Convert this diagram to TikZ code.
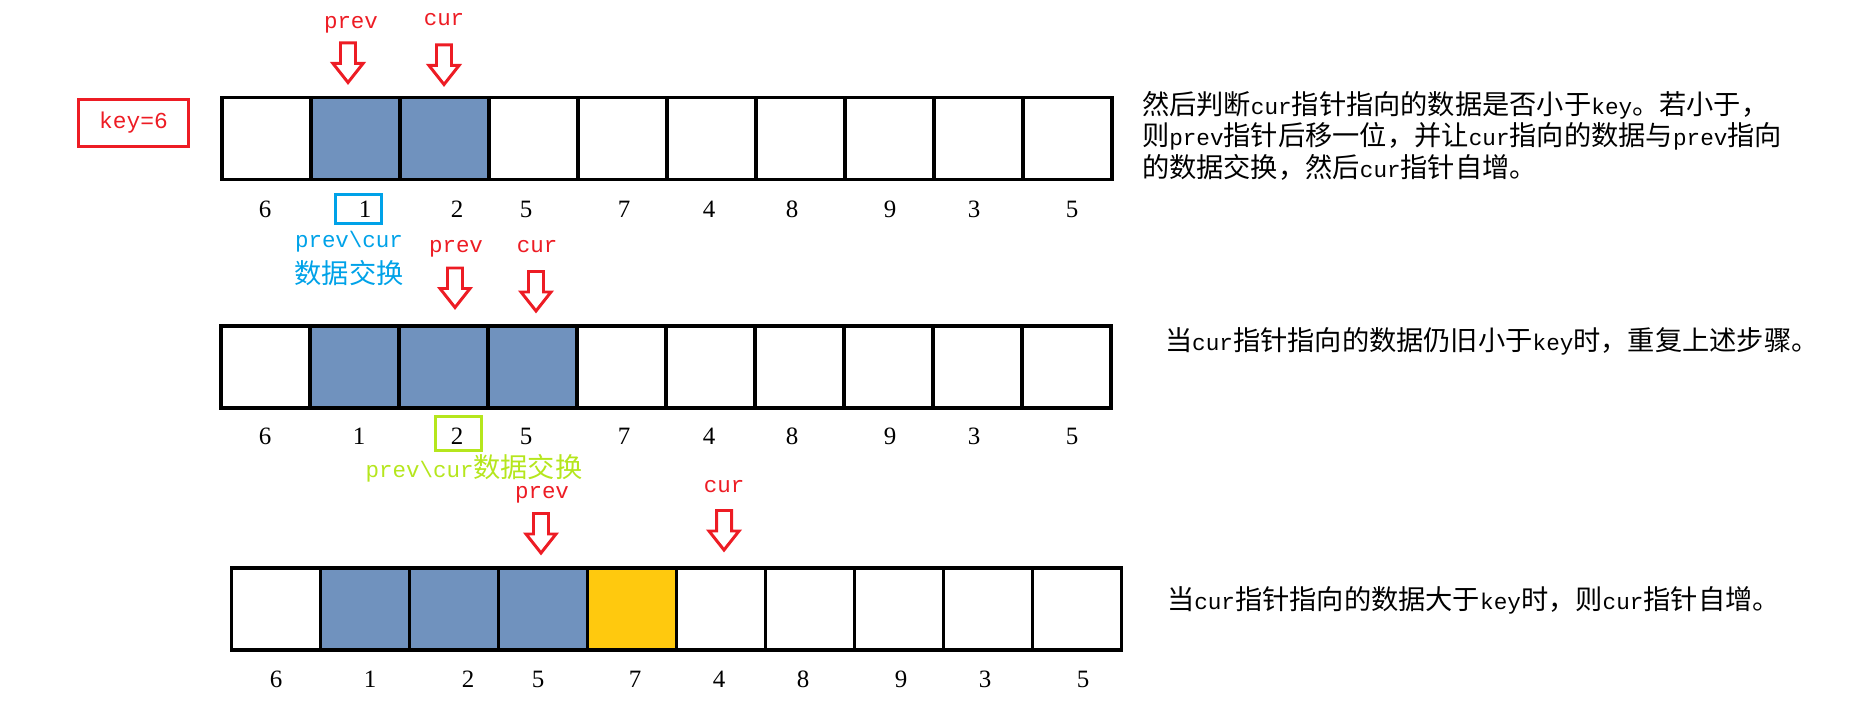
\documentclass[tikz,border=0pt]{standalone}
\usepackage{fontspec}
\setmainfont{Liberation Serif}
\newfontfamily\cjk{Noto Sans CJK SC}
\newfontfamily\mono{Liberation Mono}
\definecolor{pred}{HTML}{ED1C24}
\definecolor{pcyan}{HTML}{00A2E8}
\definecolor{plime}{HTML}{B5E61D}
\definecolor{pblue}{HTML}{7092BE}
\definecolor{pgold}{HTML}{FFC90E}
\newcommand{\en}[1]{{\mono\fontsize{12.9}{18}\selectfont #1}}

\begin{document}
\begin{tikzpicture}[
        x=0.2mm, y=-0.2mm,
        every node/.style={inner sep=0pt, outer sep=0pt},
        cell/.style={draw, line width=2pt, minimum width=17.8mm, minimum height=16.4mm},
        pics/ptr/.style={code={
            \draw[pred, line width=1.7pt] (-7.5,-20.5) -- (7.5,-20.5) -- (7.5,0) -- (15,0)
                -- (0,19) -- (-15,0) -- (-7.5,0) -- cycle;}},
        lbl/.style={font=\mono\fontsize{12.8}{14}\selectfont, text=pred, anchor=base},
        num/.style={font=\fontsize{14.2}{16}\selectfont, anchor=base},
        note/.style={font=\cjk\fontsize{15.5}{18}\selectfont, anchor=base west},
    ]
    \useasboundingbox (0,0) rectangle (1858,703);

    % Key
    \node[draw=pred, line width=1.7pt, minimum width=22mm, minimum height=9.4mm,
        text=pred, font=\mono\fontsize{13}{15}\selectfont] (key) at (133.5,123) {key=6};

    % First row
    \foreach \c [count=\i from 0] in {white,pblue,pblue,white,white,white,white,white,white,white}
        \node[cell, fill=\c] (a\i) at (266.5+89*\i, 138.5) {};
    \foreach \v/\x [count=\i] in {6/265,1/365,2/457,5/526,7/624,4/709,8/792,9/890,3/974,5/1072}
        \node[num] (na\i) at (\x,218) {\v};
    \node[lbl] (lbprev1) at (351,29) {prev};
    \node[lbl] (lbcur1) at (444,26) {cur};
    \pic (arprev1) at (348,63.5) {ptr};
    \pic (arcur1) at (444,65.5) {ptr};
    \node[draw=pcyan, line width=1.7pt, minimum width=9.2mm, minimum height=5.8mm] (swap1) at (358.5,209) {};
    \node[lbl, text=pcyan] (swtext1) at (349,248) {prev\textbackslash cur};
    \node[anchor=base, text=pcyan, font=\cjk\fontsize{15.5}{18}\selectfont] (swzh1) at (349,284) {数据交换};
    \node[note, align=left, anchor=north west] (t1) at (1142,91)
        {然后判断\en{cur}指针指向的数据是否小于\en{key}。若小于，\\
         则\en{prev}指针后移一位，并让\en{cur}指向的数据与\en{prev}指向\\
         的数据交换，然后\en{cur}指针自增。};

    % Second row
    \foreach \c [count=\i from 0] in {white,pblue,pblue,pblue,white,white,white,white,white,white}
        \node[cell, fill=\c] (b\i) at (265.5+89*\i, 367) {};
    \foreach \v/\x [count=\i] in {6/265,1/359,2/457,5/526,7/624,4/709,8/792,9/890,3/974,5/1072}
        \node[num] (nb\i) at (\x,445) {\v};
    \node[lbl] (lbprev2) at (456,253) {prev};
    \node[lbl] (lbcur2) at (537,253) {cur};
    \pic (arprev2) at (455,288.5) {ptr};
    \pic (arcur2) at (536,292) {ptr};
    \node[draw=plime, line width=1.7pt, minimum width=9.2mm, minimum height=6.8mm] (swap2) at (458.5,433.5) {};
    \node[anchor=base, text=plime, font=\cjk\fontsize{15.5}{18}\selectfont] (swtext2) at (474,478)
        {{\mono\fontsize{12.8}{14}\selectfont prev\textbackslash cur}数据交换};
    \node[note] (t2) at (1165,351)
        {当\en{cur}指针指向的数据仍旧小于\en{key}时，重复上述步骤。};

    % Third row
    \foreach \c [count=\i from 0] in {white,pblue,pblue,pblue,pgold,white,white,white,white,white}
        \node[cell, fill=\c] (c\i) at (276+89*\i, 609) {};
    \foreach \v/\x [count=\i] in {6/276,1/370,2/468,5/538,7/635,4/719,8/803,9/901,3/985,5/1083}
        \node[num] (nc\i) at (\x,688) {\v};
    \node[lbl] (lbprev3) at (542,499) {prev};
    \node[lbl] (lbcur3) at (724,493) {cur};
    \pic (arprev3) at (541,534) {ptr};
    \pic (arcur3) at (724,531) {ptr};
    \node[note] (t3) at (1167,610)
        {当\en{cur}指针指向的数据大于\en{key}时，则\en{cur}指针自增。};
\end{tikzpicture}
\end{document}
